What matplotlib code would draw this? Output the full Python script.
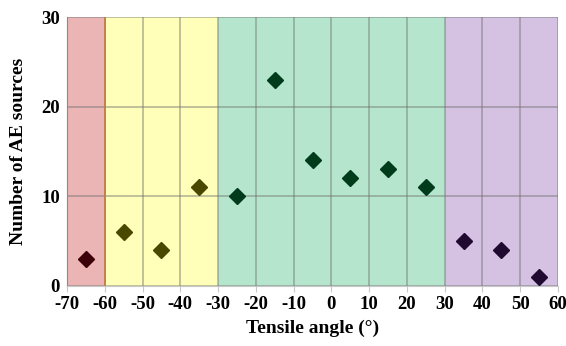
import numpy as np
import matplotlib.pyplot as plt

# tensile angle bins and AE source counts
angles = [-65, -55, -45, -35, -25, -15, -5, 5, 15, 25, 35, 45, 55]
counts = [3, 6, 4, 11, 10, 23, 14, 12, 13, 11, 5, 4, 1]

# angle ranges shaded behind the points
band_edges = [(-70, -60), (-60, -30), (-30, 30), (30, 60)]
band_colours = ['#ebb5b5', '#ffffba', '#b5e6cd', '#d5c1e1']
marker_colours = ['#3c0008', '#4a4800', '#003c1c', '#200a30']

plt.rcParams['font.family'] = ['Liberation Serif', 'DejaVu Serif']
plt.rcParams['font.weight'] = 'bold'
plt.rcParams['axes.unicode_minus'] = False

fig = plt.figure(figsize=(5.66, 3.46), dpi=100)
ax = fig.add_axes([67 / 566, 1 - 286 / 346, (558 - 67) / 566, (286 - 17) / 346])

for (lo, hi), c in zip(band_edges, band_colours):
    ax.axvspan(lo, hi, color=c, lw=0, zorder=0)

ax.set_xlim(-70, 60)
ax.set_ylim(0, 30)
ax.set_xticks(np.arange(-70, 61, 10))
ax.set_yticks([0, 10, 20, 30])
ax.grid(True, color='#707070', alpha=0.55, lw=1.1, zorder=1)
ax.axvline(-60, color='#c08048', lw=1.3, zorder=2)

for a, n in zip(angles, counts):
    for (lo, hi), mc in zip(band_edges, marker_colours):
        if lo <= a < hi:
            ax.plot(a, n, 'D', color=mc, ms=8.5, zorder=3, clip_on=False)

for s in ['top', 'right']:
    ax.spines[s].set_visible(False)
ax.spines['left'].set_color('#a08080')
ax.spines['bottom'].set_color('#c8c8c8')
ax.tick_params(axis='both', length=4, color='#c8c8c8', labelsize=13.5, pad=3)
ax.tick_params(axis='y', length=0, pad=5)
for lab in ax.get_xticklabels() + ax.get_yticklabels():
    lab.set_fontweight('bold')

ax.set_xlabel('Tensile angle (°)', fontsize=14, fontweight='bold', labelpad=5)
ax.set_ylabel('Number of AE sources', fontsize=14, fontweight='bold', labelpad=10)

fig.savefig('out.png', dpi=100)
